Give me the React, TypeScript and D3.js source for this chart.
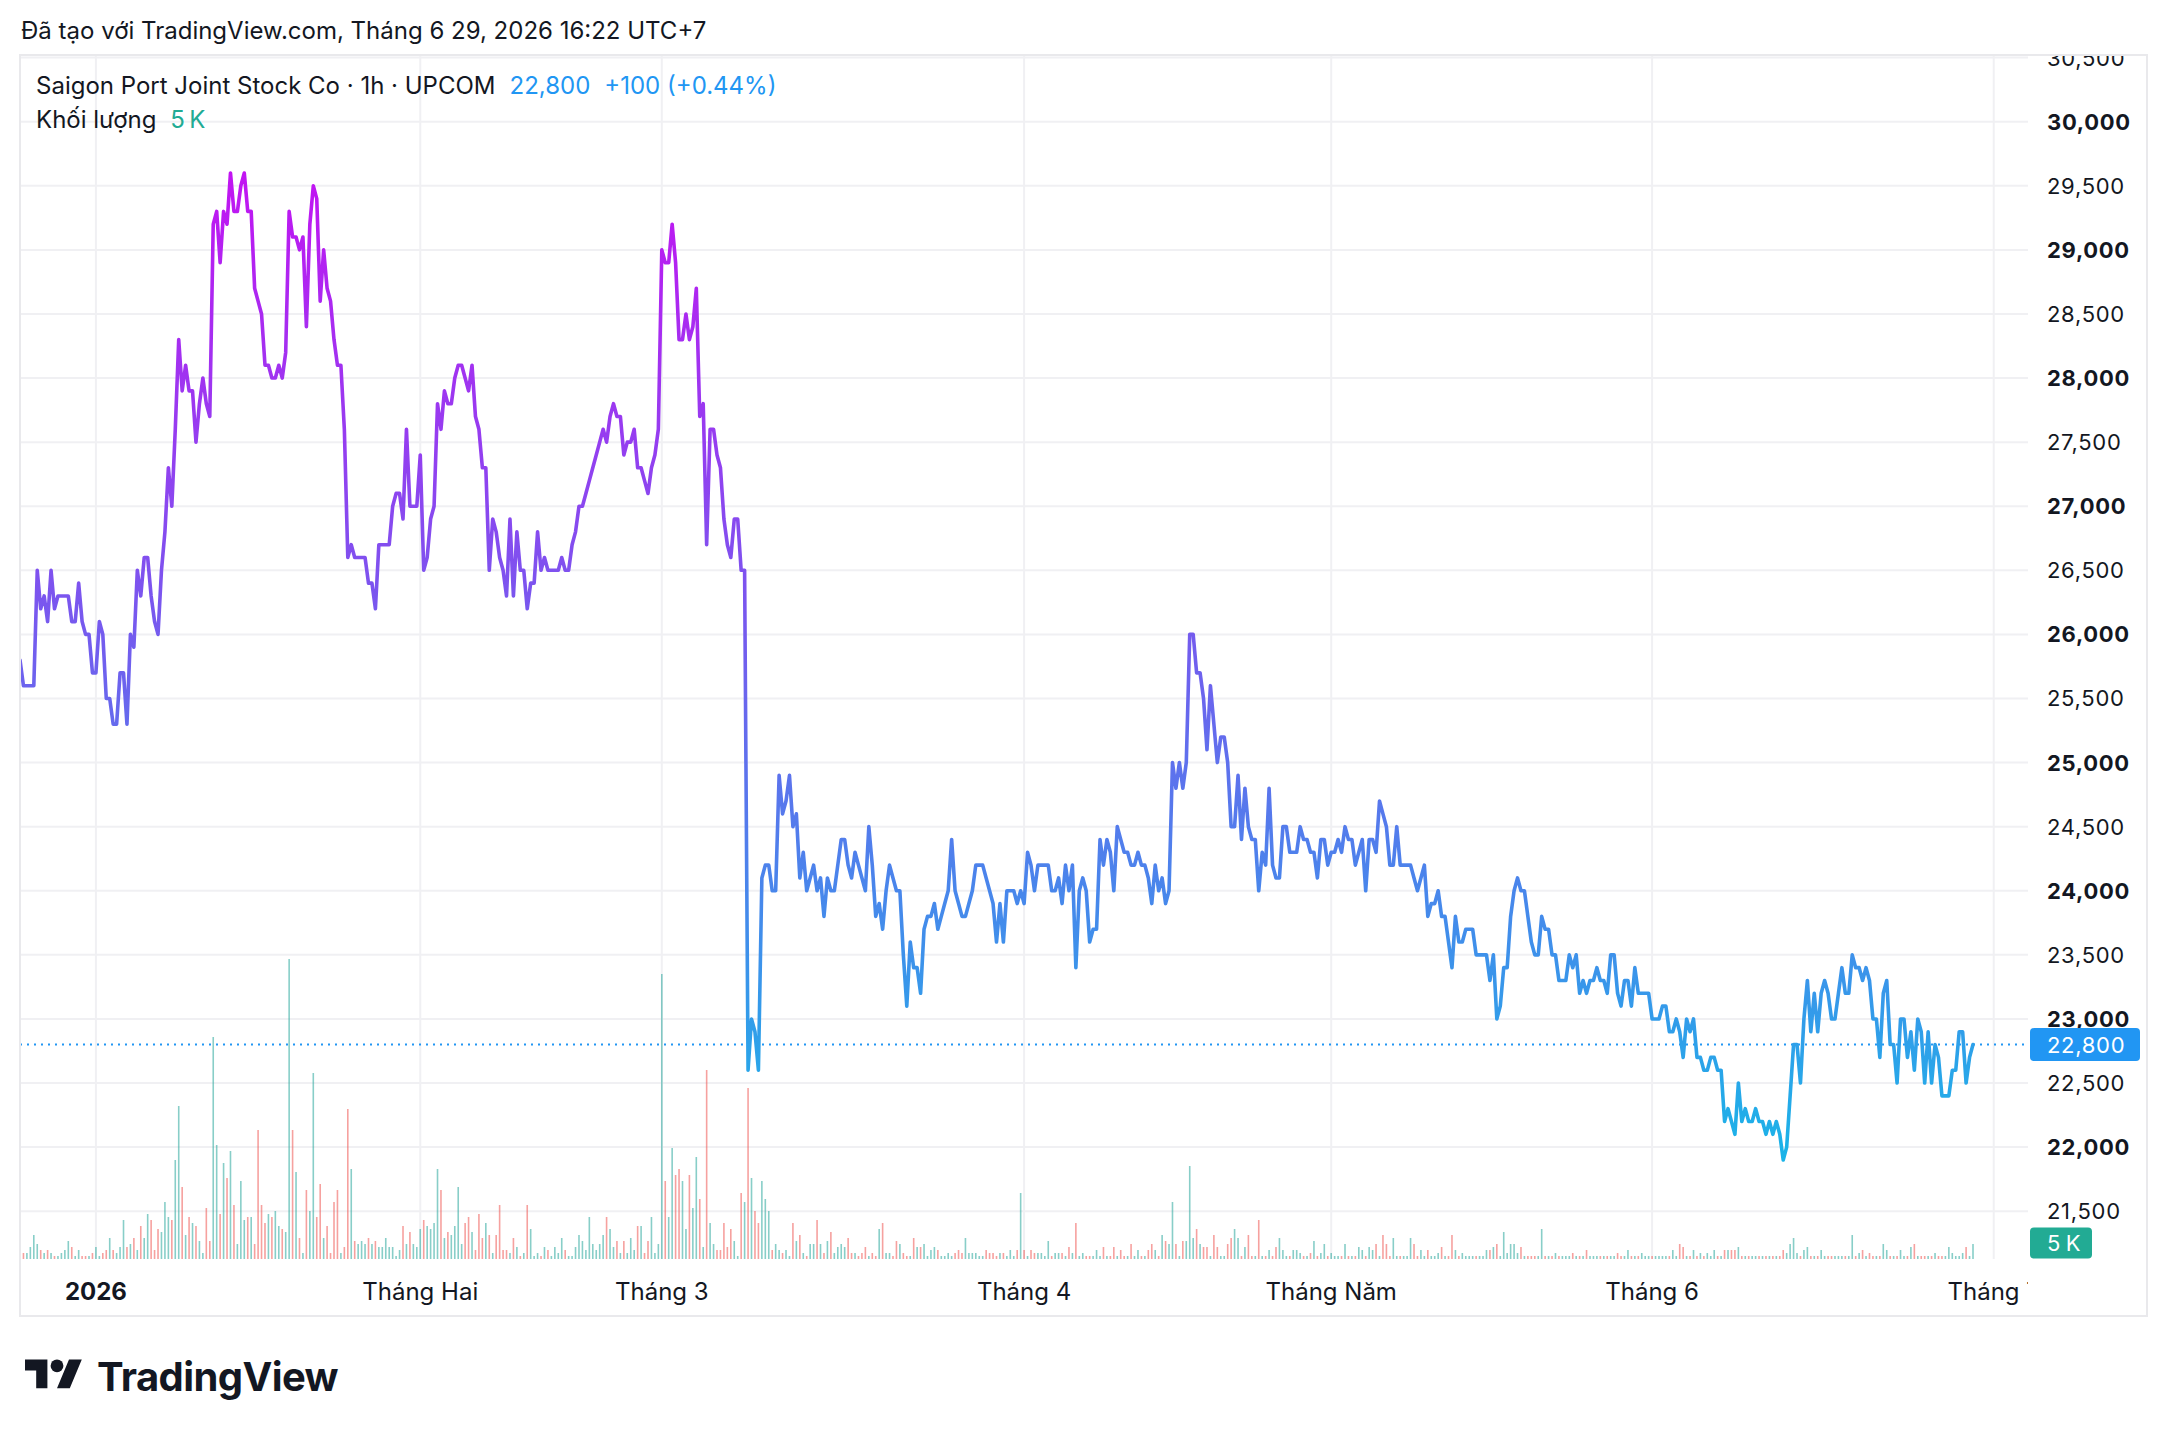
import * as d3 from "d3";

// hourly closes, one array per calendar month (first array = last days of Dec 2025)
const priceDec = [
  25800, 25600, 25600, 25600, 25600, 26500, 26200, 26300, 26100, 26500, 26200,
  26300, 26300, 26300, 26300, 26100, 26100, 26400, 26100, 26000, 26000, 25700,
];
const priceJan = [
  25700, 26100, 26000, 25500, 25500, 25300, 25300, 25700, 25700, 25300,
  26000, 25900, 26500, 26300, 26600, 26600, 26300, 26100, 26000, 26500,
  26800, 27300, 27000, 27600, 28300, 27900, 28100, 27900, 27900, 27500,
  27800, 28000, 27800, 27700, 29200, 29300, 28900, 29300, 29200, 29600,
  29300, 29300, 29500, 29600, 29300, 29300, 28700, 28600, 28500, 28100,
  28100, 28000, 28000, 28100, 28000, 28200, 29300, 29100, 29100, 29000,
  29100, 28400, 29200, 29500, 29400, 28600, 29000, 28700, 28600, 28300,
  28100, 28100, 27600, 26600, 26700, 26600, 26600, 26600, 26600, 26400, 26400,
  26200, 26700, 26700, 26700, 26700, 27000, 27100, 27100, 26900, 27600, 27000, 27000, 27000,
];
const priceFeb = [
  27400, 26500, 26600, 26900, 27000, 27800, 27600, 27900, 27800, 27800,
  28000, 28100, 28100, 28000, 27900, 28100, 27700, 27600, 27300, 27300,
  26500, 26900, 26800, 26600, 26500, 26300, 26900, 26300, 26800, 26500,
  26500, 26200, 26400, 26400, 26800, 26500, 26600, 26500, 26500, 26500,
  26500, 26600, 26500, 26500, 26700, 26800, 27000, 27000, 27100, 27200,
  27300, 27400, 27500, 27600, 27500, 27700, 27800, 27700, 27700, 27400,
  27500, 27500, 27600, 27300, 27300, 27200, 27100, 27300, 27400, 27600,
];
const priceMar = [
  29000, 28900, 28900, 29200, 28900, 28300, 28300, 28500, 28300, 28400,
  28700, 27700, 27800, 26700, 27600, 27600, 27400, 27300, 26900, 26700,
  26600, 26900, 26900, 26500, 26500, 22600, 23000, 22900, 22600, 24100,
  24200, 24200, 24000, 24000, 24900, 24600, 24700, 24900, 24500, 24600,
  24100, 24300, 24000, 24100, 24200, 24000, 24100, 23800, 24100, 24000,
  24000, 24200, 24400, 24400, 24200, 24100, 24300, 24200, 24100, 24000,
  24500, 24200, 23800, 23900, 23700, 24000, 24200, 24100, 24000, 24000,
  23500, 23100, 23600, 23400, 23400, 23200, 23700, 23800, 23800, 23900,
  23700, 23800, 23900, 24000, 24400, 24000, 23900, 23800, 23800, 23900,
  24000, 24200, 24200, 24200, 24100, 24000, 23900, 23600, 23900, 23600,
  24000, 24000, 24000, 23900, 24000,
];
const priceApr = [
  23900, 24300, 24200, 24000, 24200, 24200, 24200, 24200, 24000, 24000, 24100,
  23900, 24200, 24000, 24200, 23400, 24000, 24100, 24000, 23600, 23700,
  23700, 24400, 24200, 24400, 24300, 24000, 24500, 24400, 24300, 24300,
  24200, 24200, 24300, 24200, 24200, 24100, 23900, 24200, 24000, 24100,
  23900, 24000, 25000, 24800, 25000, 24800, 25000, 26000, 26000, 25700,
  25700, 25500, 25100, 25600, 25300, 25000, 25200, 25200, 25000, 24500,
  24500, 24900, 24400, 24800, 24500, 24400, 24400, 24000, 24300, 24200,
  24800, 24200, 24100, 24100, 24500, 24500, 24300, 24300, 24300, 24500,
  24400, 24400, 24300, 24300, 24100, 24400, 24400, 24200,
];
const priceMay = [
  24300, 24300, 24400, 24300, 24500, 24400, 24400, 24200, 24300, 24400,
  24000, 24400, 24400, 24300, 24700, 24600, 24500, 24200, 24200, 24500,
  24200, 24200, 24200, 24200, 24100, 24000, 24100, 24200, 23800, 23900,
  23900, 24000, 23800, 23800, 23600, 23400, 23800, 23600, 23600, 23700,
  23700, 23700, 23500, 23500, 23500, 23500, 23300, 23500, 23000, 23100,
  23400, 23400, 23800, 24000, 24100, 24000, 24000, 23800, 23600, 23500,
  23500, 23800, 23700, 23700, 23500, 23500, 23300, 23300, 23300, 23500,
  23400, 23500, 23200, 23300, 23200, 23300, 23300, 23400, 23300, 23300,
  23200, 23500, 23500, 23200, 23100, 23300, 23300, 23100, 23400, 23200,
  23200, 23200, 23200,
];
const priceJun = [
  23000, 23000, 23000, 23100, 23100, 22900, 22900, 23000, 22900,
  22700, 23000, 22900, 23000, 22700, 22700, 22600, 22600,
  22700, 22700, 22600, 22600, 22200, 22300, 22200, 22100, 22500, 22200,
  22300, 22200, 22200, 22300, 22200, 22200, 22100, 22200, 22100, 22200,
  22100, 21900, 22000, 22400, 22800, 22800, 22500, 23000, 23300, 22900,
  23200, 22900, 23200, 23300, 23200, 23000, 23000, 23200, 23400, 23200,
  23200, 23500, 23400, 23400, 23300, 23400, 23300, 23000, 23000, 22700,
  23200, 23300, 22800, 22800, 22500, 23000, 23000, 22700, 22900, 22600,
  23000, 22900, 22500, 22900, 22500, 22800, 22700, 22400, 22400, 22400,
  22600, 22600, 22900, 22900, 22500, 22700, 22800,
];

// volume per bar in thousands of shares, same month split as the closes
const volDec = [11, 2, 2, 4, 8, 5, 3, 2, 3, 2, 1, 1, 2, 3, 6, 4, 1, 3, 1, 1, 1, 2];
const volJan = [
  4, 1, 2, 3, 7, 3, 2, 4, 13, 4, 5, 7, 3, 11, 7, 15, 13, 3,
  10, 9, 19, 14, 13, 33, 51, 24, 8, 14, 12, 11, 6, 2, 17, 6, 74, 38, 15, 32,
  27, 36, 18, 5, 26, 13, 14, 14, 5, 43, 18, 12, 15, 14, 16, 11, 10, 9, 100, 43,
  29, 7, 2, 23, 16, 62, 14, 25, 7, 11, 2, 19, 23, 2, 4, 50, 30, 6, 5, 6, 5,
  7, 5, 6, 4, 4, 7, 4, 4, 1, 3, 11, 5, 9, 5, 4,
];
const volFeb = [
  10, 13, 11, 10, 12, 30, 23,
  7, 9, 8, 11, 24, 5, 12, 14, 9, 3, 15, 7, 12, 8, 2, 8, 18, 3, 3, 2,
  7, 4, 1, 2, 18, 10, 1, 2, 1, 4, 3, 1, 4, 2, 7, 3, 1, 1, 4, 8,
  6, 3, 14, 5, 3, 5, 8, 14, 10, 4, 6, 2, 6, 2, 7, 3, 11, 11, 2, 6,
  14, 2, 5,
];
const volMar = [
  95, 26, 14, 37, 28, 30, 26, 10, 28, 17, 34, 20, 4, 63, 12, 5, 3,
  3, 12, 4, 10, 6, 1, 22, 19, 57, 27, 16, 12, 26, 20, 16, 3, 5, 3, 2, 3,
  1, 12, 6, 8, 2, 1, 5, 5, 13, 5, 2, 6, 9, 2, 4, 5, 4, 7, 2, 2,
  1, 2, 4, 1, 2, 1, 10, 12, 2, 2, 1, 6, 5, 2, 1, 1, 7, 4, 4, 5,
  1, 3, 4, 3, 1, 1, 2, 1, 2, 3, 2, 7, 2, 2, 2, 1, 1, 3, 2, 2,
  1, 2, 2, 1, 3, 1, 3, 22,
];
const volApr = [
  3, 1, 3, 2, 2, 2, 1, 6, 1, 2, 2, 2,
  1, 4, 2, 12, 1, 2, 1, 1, 1, 3, 1, 4, 1, 1, 4, 1, 3, 1, 1, 5,
  1, 3, 1, 1, 3, 5, 3, 1, 8, 6, 5, 19, 5, 1, 6, 6, 31, 7, 10, 5,
  4, 4, 1, 8, 4, 1, 1, 5, 7, 10, 7, 1, 4, 8, 1, 1, 13, 1, 1, 3,
  1, 4, 7, 3, 1, 1, 3, 3, 2, 1, 1, 2, 6, 1, 2, 5, 1,
];
const volMay = [
  2, 1, 1,
  1, 5, 1, 1, 1, 4, 3, 1, 4, 3, 5, 1, 8, 5, 1, 7, 1, 1, 1, 1,
  7, 5, 1, 3, 1, 3, 1, 1, 2, 4, 1, 1, 8, 3, 1, 2, 1, 1, 1, 1,
  1, 1, 3, 3, 4, 5, 1, 9, 2, 5, 5, 2, 4, 1, 1, 1, 1, 1, 10, 1,
  1, 1, 2, 1, 1, 1, 1, 2, 1, 1, 1, 3, 1, 1, 1, 1, 1, 1, 1, 1,
  2, 1, 1, 3, 1, 1, 1, 2, 1, 1,
];
const volJun = [
  1, 1, 1, 1, 1, 1, 3, 1, 5,
  4, 1, 1, 3, 1, 2, 1, 2, 1, 3, 1, 1, 3, 3, 3, 3, 4, 1,
  1, 1, 1, 1, 1, 1, 1, 1, 1, 1, 1, 3, 2, 5, 7, 2, 1, 3, 4, 1,
  1, 1, 3, 1, 1, 1, 1, 1, 1, 1, 1, 8, 1, 2, 3, 1, 2, 1, 1, 1,
  5, 3, 1, 1, 1, 3, 1, 1, 4, 5, 1, 1, 1, 1, 1, 2, 1, 1, 1, 4,
  2, 1, 1, 2, 4, 1, 5,
];

const monthLabels = ["2026", "Tháng Hai", "Tháng 3", "Tháng 4", "Tháng Năm", "Tháng 6", "Tháng 7"];
const barsLeftInJune = 5; // Jun 30 still to come before the July mark
const priceTicks = [
  21500, 22000, 22500, 23000, 23500, 24000, 24500, 25000, 25500,
  26000, 26500, 27000, 27500, 28000, 28500, 29000, 29500, 30000, 30500,
];
const prevClose = 22700;

const W = 2168;
const H = 1436;
const FONT = 'Inter, "Noto Sans", sans-serif';
const INK = "#131722";
const BLUE = "#2196f3";
const TEAL = "#22ab94";

export default function App() {
  const months = [priceDec, priceJan, priceFeb, priceMar, priceApr, priceMay, priceJun];
  const prices = months.flat();
  const volumes = [volDec, volJan, volFeb, volMar, volApr, volMay, volJun].flat();
  const last = prices[prices.length - 1];
  const lastVol = volumes[volumes.length - 1];

  // bar index of the first bar of each month
  const monthStarts: number[] = [];
  let acc = 0;
  months.slice(0, -1).forEach((m) => {
    acc += m.length;
    monthStarts.push(acc);
  });
  monthStarts.push(prices.length + barsLeftInJune);

  const pane = { left: 20, top: 55, right: 2028, bottom: 1259 };
  const frame = { left: 20, top: 55, right: 2147, bottom: 1316 };

  const x = d3.scaleLinear().domain([0, prices.length - 1]).range([pane.left, 1973]);
  const y = d3.scaleLinear().domain([21500, 30000]).range([1211.2, 121.7]);
  const yVol = d3.scaleLinear().domain([0, 100]).range([pane.bottom, pane.bottom - 300]);
  const fmt = d3.format(",");

  const line = d3
    .line<number>()
    .x((_, i) => x(i))
    .y((d) => y(d));

  const chg = last - prevClose;
  const pct = (chg / prevClose) * 100;

  // the volume label is pushed up so it stays inside the pane
  const volLabelY = Math.min(yVol(lastVol), pane.bottom - 16);

  return (
    <div style={{ position: "absolute", left: 0, top: 0 }}>
      <svg width={W} height={H} style={{ display: "block", background: "#fff" }} fontFamily={FONT}>
        <defs>
          <clipPath id="paneClip">
            <rect x={pane.left} y={pane.top} width={pane.right - pane.left} height={pane.bottom - pane.top} />
          </clipPath>
          <clipPath id="axisClip">
            <rect x={pane.right} y={frame.top} width={frame.right - pane.right} height={pane.bottom - frame.top} />
          </clipPath>
          <clipPath id="timeClip">
            <rect x={frame.left} y={pane.bottom} width={pane.right - frame.left} height={frame.bottom - pane.bottom} />
          </clipPath>
          <linearGradient
            id="lineGrad"
            gradientUnits="userSpaceOnUse"
            x1={0}
            x2={0}
            y1={y(d3.max(prices)!)}
            y2={y(d3.min(prices)!)}
          >
            <stop offset="0" stopColor="#c214f2" />
            <stop offset="0.5" stopColor="#6f60ee" />
            <stop offset="1" stopColor="#1ab4e8" />
          </linearGradient>
        </defs>

        <text x={21} y={39} fontSize={24} fill={INK}>
          Đã tạo với TradingView.com, Tháng 6 29, 2026 16:22 UTC+7
        </text>

        {/* grid */}
        <g clipPath="url(#paneClip)">
          {priceTicks.map((t) => (
            <line key={t} x1={pane.left} x2={pane.right} y1={y(t)} y2={y(t)} stroke="#f0f0f3" strokeWidth={2} />
          ))}
          {monthStarts.map((m, i) => (
            <line key={i} x1={x(m)} x2={x(m)} y1={pane.top} y2={pane.bottom} stroke="#f0f0f3" strokeWidth={2} />
          ))}
        </g>

        {/* volume */}
        <g clipPath="url(#paneClip)">
          {volumes.map((v, i) => {
            const up = i === 0 || prices[i] >= prices[i - 1];
            return (
              <rect
                key={i}
                x={x(i) - 0.8}
                width={1.6}
                y={yVol(v)}
                height={pane.bottom - yVol(v)}
                fill={up ? "rgba(38,166,154,0.55)" : "rgba(239,83,80,0.55)"}
              />
            );
          })}
        </g>

        {/* last price line */}
        <line
          x1={pane.left}
          x2={pane.right}
          y1={y(last)}
          y2={y(last)}
          stroke={BLUE}
          strokeWidth={2}
          strokeDasharray="2 5"
        />

        <g clipPath="url(#paneClip)">
          <path
            d={line(prices) ?? ""}
            fill="none"
            stroke="url(#lineGrad)"
            strokeWidth={3.6}
            strokeLinejoin="round"
            strokeLinecap="round"
          />
        </g>

        {/* price axis */}
        <g clipPath="url(#axisClip)">
          {priceTicks.map((t) => (
            <text
              key={t}
              x={2047}
              y={y(t)}
              dominantBaseline="central"
              fontSize={22}
              letterSpacing={0.7}
              fontWeight={t % 1000 === 0 ? 700 : 400}
              fill={INK}
            >
              {fmt(t)}
            </text>
          ))}
        </g>
        <rect x={2030} y={y(last) - 16.5} width={110} height={33} rx={4} fill={BLUE} />
        <text x={2047} y={y(last)} dominantBaseline="central" fontSize={22} letterSpacing={0.7} fill="#fff">
          {fmt(last)}
        </text>
        <rect x={2030} y={volLabelY - 15.5} width={62} height={31} rx={4} fill={TEAL} />
        <text x={2047} y={volLabelY} dominantBaseline="central" fontSize={22} letterSpacing={0.7} fill="#fff">
          {lastVol}
          {"\u2009"}K
        </text>

        {/* time axis */}
        <g clipPath="url(#timeClip)">
          {monthStarts.map((m, i) => (
            <text
              key={i}
              x={x(m)}
              y={1291}
              textAnchor="middle"
              dominantBaseline="central"
              fontSize={24}
              fontWeight={i === 0 ? 700 : 400}
              fill={INK}
            >
              {monthLabels[i]}
            </text>
          ))}
        </g>

        {/* legend */}
        <text x={36} y={94} fontSize={24} fill={INK}>
          Saigon Port Joint Stock Co · 1h · UPCOM
          <tspan dx={14} fill={BLUE}>
            {fmt(last)}
          </tspan>
          <tspan dx={14} fill={BLUE}>
            {chg >= 0 ? "+" : ""}
            {fmt(chg)} ({chg >= 0 ? "+" : ""}
            {pct.toFixed(2)}%)
          </tspan>
        </text>
        <text x={36} y={128} fontSize={24} fill={INK}>
          Khối lượng
          <tspan dx={14} fill={TEAL}>
            {lastVol}
            {"\u2009"}K
          </tspan>
        </text>

        {/* frame */}
        <rect
          x={frame.left}
          y={frame.top}
          width={frame.right - frame.left}
          height={frame.bottom - frame.top}
          fill="none"
          stroke="#e9e9ec"
          strokeWidth={2}
        />

        {/* logo */}
        <g transform="translate(25,1353) scale(1.6)" fill={INK}>
          <path d="M14 22H7V11H0V4h14v18zM28 22h-8l7.5-18h8L28 22z" />
          <circle cx={20} cy={8} r={4} />
        </g>
        <text x={97} y={1391} fontSize={40} fontWeight={700} letterSpacing={-0.6} fill={INK}>
          TradingView
        </text>
      </svg>
    </div>
  );
}
